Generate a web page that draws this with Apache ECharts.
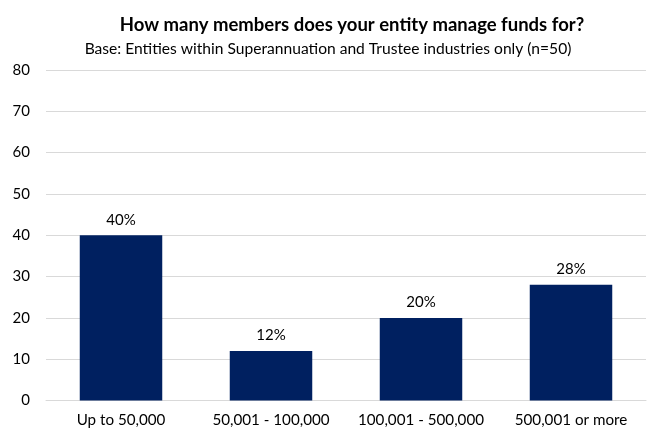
<!DOCTYPE html>
<html>
<head>
<meta charset="utf-8">
<script src="https://cdn.jsdelivr.net/npm/echarts@6/dist/echarts.min.js"></script>
<style>
  html, body { margin: 0; padding: 0; background: #fff; }
  #chart { width: 654px; height: 430px; }
</style>
</head>
<body>
<div id="chart"></div>
<script>
// Membership size bands and share of entities (%)
const categories = ['Up to 50,000', '50,001 - 100,000', '100,001 - 500,000', '500,001 or more'];
const shares = [40, 12, 20, 28];
const yTicks = { min: 0, max: 80, interval: 10 };

const titleText = 'How many members does your entity manage funds for?';
const subtitleText = 'Base: Entities within Superannuation and Trustee industries only (n=50)';

const FONT = 'Lato, "Open Sans", sans-serif';

const chart = echarts.init(document.getElementById('chart'), null, { renderer: 'canvas' });
chart.setOption({
  animation: false,
  backgroundColor: '#ffffff',
  title: [
    {
      text: titleText,
      left: 347, top: 11, textAlign: 'center',
      textStyle: { fontFamily: FONT, fontSize: 18.5, fontWeight: 'bold', color: '#000' }
    },
    {
      text: subtitleText,
      left: 323, top: 36, textAlign: 'center',
      textStyle: { fontFamily: FONT, fontSize: 15.6, fontWeight: 'normal', color: '#000' }
    }
  ],
  grid: { left: 46, right: 8, top: 70, bottom: 29.5, containLabel: false },
  xAxis: {
    type: 'category',
    data: categories,
    axisLine: { show: true, lineStyle: { color: '#d9d9d9', width: 1 } },
    axisTick: { show: false },
    axisLabel: { interval: 0, fontFamily: FONT, fontSize: 15.2, color: '#000', margin: 12 }
  },
  yAxis: {
    type: 'value',
    min: yTicks.min, max: yTicks.max, interval: yTicks.interval,
    axisLine: { show: false },
    axisTick: { show: false },
    splitLine: { lineStyle: { color: '#d9d9d9', width: 1 } },
    axisLabel: { fontFamily: FONT, fontSize: 15, color: '#000', margin: 16 }
  },
  series: [{
    type: 'bar',
    data: shares,
    barWidth: '55%',
    itemStyle: { color: '#002060' },
    label: {
      show: true, position: 'top', distance: 8,
      formatter: '{c}%',
      fontFamily: FONT, fontSize: 15, color: '#000'
    }
  }]
});
</script>
</body>
</html>
